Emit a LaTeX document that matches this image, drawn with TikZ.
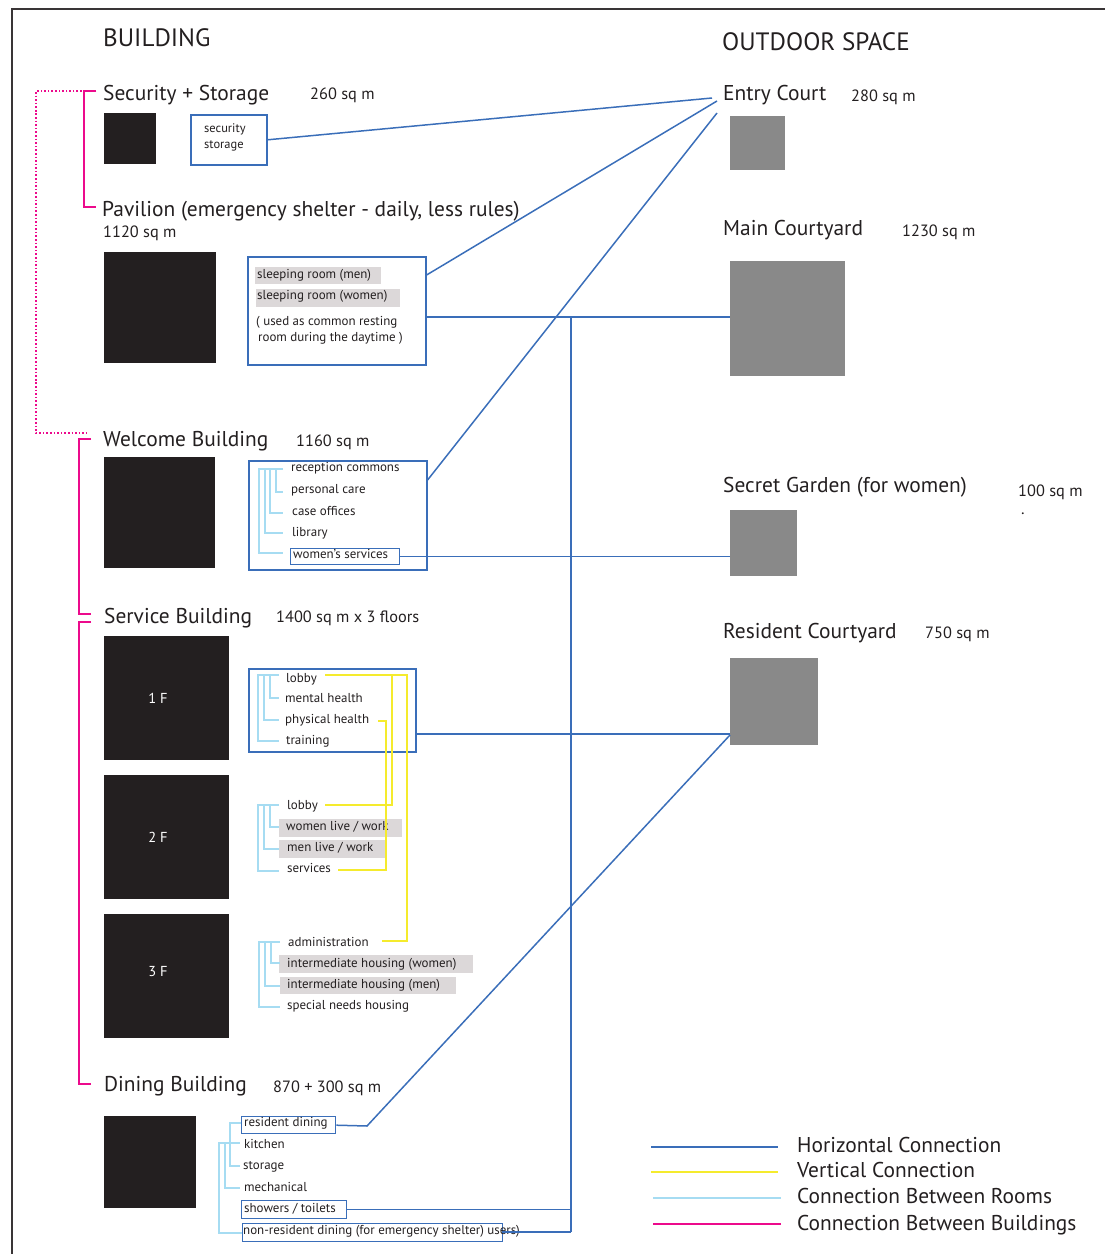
\documentclass[tikz,border=0pt]{standalone}
\usepackage{fontspec}
\setmainfont{PT Sans}
\definecolor{hblue}{RGB}{58,110,185}
\definecolor{vyellow}{RGB}{245,235,45}
\definecolor{lblue}{RGB}{166,220,242}
\definecolor{mag}{RGB}{236,10,140}
\definecolor{ink}{RGB}{35,31,32}
\definecolor{court}{RGB}{137,137,137}
\definecolor{hl}{RGB}{220,216,217}
\newcommand\rbox[6]{\node[#1, anchor=north west, inner sep=0pt, minimum width={(#5-#3)*1bp}, minimum height={(#6-#4)*1bp}] (#2) at (#3,#4) {};}
\begin{document}
\begin{tikzpicture}[x=1bp,y=-1bp,
  txt/.style={anchor=base west, inner sep=0pt, text=ink},
  ttl/.style={txt, font=\fontsize{25.2}{30}\selectfont},
  head/.style={txt, font=\fontsize{21.5}{25}\selectfont},
  area/.style={txt, font=\fontsize{16.4}{19}\selectfont},
  room/.style={txt, font=\fontsize{13}{15}\selectfont},
  leg/.style={txt, font=\fontsize{21.5}{25}\selectfont},
  bld/.style={fill=ink, draw=none},
  crt/.style={fill=court, draw=none},
  bbox/.style={draw=hblue, line width=1.6pt},
  hconn/.style={draw=hblue, line width=1.5pt},
  vconn/.style={draw=vyellow, line width=1.5pt},
  rconn/.style={draw=lblue, line width=1.5pt},
  bconn/.style={draw=mag, line width=1.6pt},
  flr/.style={text=white, font=\fontsize{14.5}{16}\selectfont}]
\useasboundingbox (0,0) rectangle (1105,1254);
% frame
\draw[ink!90, line width=3pt] (1106,9) -- (12,9) -- (12,1256);

% titles
\node[ttl] (tB) at (103,46) {BUILDING};
\node[ttl] (tO) at (722,50) {OUTDOOR SPACE};

% ---------- buildings ----------
\node[head] (hSec) at (103,100) {Security + Storage};
\node[area] (aSec) at (310,99) {260 sq m};
\rbox{bld}{sqSec}{104}{113}{156}{164}
\rbox{bbox}{bxSec}{190}{114}{266}{164}
\node[room, font=\fontsize{12.5}{14}\selectfont] (rSec1) at (204,132) {security};
\node[room, font=\fontsize{12.5}{14}\selectfont] (rSec2) at (204,148) {storage};

\node[head] (hPav) at (102,216) {Pavilion (emergency shelter - daily, less rules)};
\node[area] (aPav) at (103,237) {1120 sq m};
\rbox{bld}{sqPav}{104}{252}{216}{363}
\rbox{bbox}{bxPav}{247}{256}{425}{364}
\fill[hl] (255,267) rectangle (381,284);
\fill[hl] (256,289) rectangle (400,307);
\node[room] (rP1) at (257,278) {sleeping room (men)};
\node[room] (rP2) at (257,299) {sleeping room (women)};
\node[room] (rP3) at (256,325) {( used as common resting};
\node[room] (rP4) at (258,341) {room during the daytime )};

\node[head] (hWel) at (103,446) {Welcome Building};
\node[area] (aWel) at (296,446) {1160 sq m};
\rbox{bld}{sqWel}{104}{457}{215}{568}
\rbox{bbox}{bxWel}{248}{460}{426}{569}
\rbox{bbox, line width=1.4pt}{bxWs}{290}{548}{399}{564}
\node[room] (rW1) at (291,471) {reception commons};
\node[room] (rW2) at (291,493) {personal care};
\node[room] (rW3) at (292,515) {case offices};
\node[room] (rW4) at (292,536) {library};
\node[room] (rW5) at (293,558) {women’s services};
\draw[rconn] (283,469) -- (259,469) -- (259,553) -- (283,553);
\draw[rconn] (265,469) -- (265,533) -- (283,533);
\draw[rconn] (270,469) -- (270,513) -- (283,513);
\draw[rconn] (276,469) -- (276,492) -- (283,492);

\node[head] (hSer) at (104,623) {Service Building};
\node[area] (aSer) at (276,622) {1400 sq m x 3 floors};
\rbox{bld}{sq1F}{104}{636}{229}{760}
\rbox{bld}{sq2F}{104}{775}{229}{899}
\rbox{bld}{sq3F}{104}{914}{229}{1038}
\node[flr] (l1F) at (158,698) {1 F};
\node[flr] (l2F) at (158,837) {2 F};
\node[flr] (l3F) at (158,972) {3 F};
\rbox{bbox}{bx1F}{248}{668}{415}{751}
% 1F
\node[room] (f1a) at (286,682) {lobby};
\node[room] (f1b) at (285,702) {mental health};
\node[room] (f1c) at (285,723) {physical health};
\node[room] (f1d) at (286,744) {training};
\draw[rconn] (279,675) -- (258,675) -- (258,741) -- (279,741);
\draw[rconn] (264,675) -- (264,720) -- (279,720);
\draw[rconn] (270,675) -- (270,698) -- (279,698);
% 2F
\fill[hl] (279,819) rectangle (402,837);
\fill[hl] (279,840) rectangle (385,858);
\node[room] (f2a) at (287,809) {lobby};
\node[room] (f2b) at (286,830) {women live / work};
\node[room] (f2c) at (287,851) {men live / work};
\node[room] (f2d) at (287,872) {services};
\draw[rconn] (279,805) -- (258,805) -- (258,871) -- (279,871);
\draw[rconn] (264,805) -- (264,849) -- (279,849);
\draw[rconn] (270,805) -- (270,827) -- (279,827);
% 3F
\fill[hl] (279,955) rectangle (473,973);
\fill[hl] (280,977) rectangle (456,994);
\node[room] (f3a) at (288,946) {administration};
\node[room] (f3b) at (287,967) {intermediate housing (women)};
\node[room] (f3c) at (287,988) {intermediate housing (men)};
\node[room] (f3d) at (287,1009) {special needs housing};
\draw[rconn] (280,942) -- (259,942) -- (259,1007) -- (280,1007);
\draw[rconn] (265,942) -- (265,986) -- (280,986);
\draw[rconn] (271,942) -- (271,963) -- (280,963);
% vertical connections
\draw[vconn] (325,675) -- (407,675) -- (407,941) -- (382,941);
\draw[vconn] (392,675) -- (392,805) -- (325,805);
\draw[vconn] (378,721) -- (386,721) -- (386,870) -- (338,870);

\node[head] (hDin) at (104,1091) {Dining Building};
\node[area] (aDin) at (273,1092) {870 + 300 sq m};
\rbox{bld}{sqDin}{104}{1116}{196}{1208}
\rbox{bbox, line width=1.4pt}{bxRd}{241}{1116}{335}{1133}
\rbox{bbox, line width=1.4pt}{bxSh}{241}{1200}{346}{1218}
\rbox{bbox, line width=1.4pt}{bxNr}{242}{1223}{502}{1241}
\node[room] (d1) at (244,1126) {resident dining};
\node[room] (d2) at (244,1148) {kitchen};
\node[room] (d3) at (243,1169) {storage};
\node[room] (d4) at (244,1191) {mechanical};
\node[room] (d5) at (244,1212) {showers / toilets};
\node[room] (d6) at (243,1234) {non-resident dining (for emergency shelter) users)};
\draw[rconn] (241,1123) -- (230,1123) -- (230,1166) -- (240,1166);
\draw[rconn] (240,1143) -- (219,1143) -- (219,1233) -- (242,1233);
\draw[rconn] (225,1143) -- (225,1188) -- (240,1188);

% ---------- outdoor ----------
\node[head] (hEc) at (723,100) {Entry Court};
\node[area] (aEc) at (851,101) {280 sq m};
\rbox{crt}{sqEc}{730}{116}{785}{170}
\node[head] (hMc) at (723,235) {Main Courtyard};
\node[area] (aMc) at (902,236) {1230 sq m};
\rbox{crt}{sqMc}{730}{261}{845}{376}
\node[head] (hSg) at (723,492) {Secret Garden (for women)};
\node[area] (aSg) at (1018,496) {100 sq m};
\node[area] (dot) at (1021,514) {.};
\rbox{crt}{sqSg}{730}{510}{797}{576}
\node[head] (hRc) at (723,638) {Resident Courtyard};
\node[area] (aRc) at (925,638) {750 sq m};
\rbox{crt}{sqRc}{730}{658}{818}{745}

% ---------- horizontal connections ----------
\coordinate (ec1) at (712,98);
\coordinate (ec2) at (717,101);
\coordinate (ec3) at (717,113);
\coordinate (spine) at (571,317);
\coordinate (spineEnd) at (571,1232);
\coordinate (rdk) at (367,1126);
\draw[hconn] (bxSec.east) -- (ec1);
\draw[hconn] (bxPav.east |- 0,275) -- (ec2);
\draw[hconn] (bxWel.east |- 0,480) -- (ec3);
\draw[hconn] (bxPav.east |- spine) -- (sqMc.west |- spine);
\draw[hconn] (spine) -- (spineEnd);
\draw[hconn] (bxWs.east) -- (sqSg.west |- bxWs.east) ;
\draw[hconn] (bx1F.east |- 0,734) -- (sqRc.west |- 0,734);
\draw[hconn] (bxRd.east) -- (rdk) -- (sqRc.west |- 0,735);
\draw[hconn] (bxSh.east) -- (spine |- bxSh.east);
\draw[hconn] (bxNr.east |- spineEnd) -- (spineEnd);

% ---------- building connections ----------
\draw[bconn] (96,91) -- (84,91) -- (84,207) -- (96,207);
\draw[bconn, dotted, line width=1.4pt] (96,91) -- (36,91) -- (36,433) -- (87,433);
\draw[bconn] (91,439) -- (79,439) -- (79,614) -- (91,614);
\draw[bconn] (91,622) -- (79,622) -- (79,1084) -- (91,1084);

% ---------- legend ----------
\coordinate (lg1a) at (651,1147); \coordinate (lg1b) at (778,1147);
\coordinate (lg2a) at (651,1172); \coordinate (lg2b) at (778,1172);
\coordinate (lg3a) at (653,1198); \coordinate (lg3b) at (781,1198);
\coordinate (lg4a) at (653,1224); \coordinate (lg4b) at (781,1224);
\draw[hconn] (lg1a) -- (lg1b);
\draw[vconn] (lg2a) -- (lg2b);
\draw[rconn] (lg3a) -- (lg3b);
\draw[bconn] (lg4a) -- (lg4b);
\node[leg] (lt1) at (797,1152) {Horizontal Connection};
\node[leg] (lt2) at (797,1177) {Vertical Connection};
\node[leg] (lt3) at (797,1203) {Connection Between Rooms};
\node[leg] (lt4) at (797,1230) {Connection Between Buildings};
\end{tikzpicture}
\end{document}
